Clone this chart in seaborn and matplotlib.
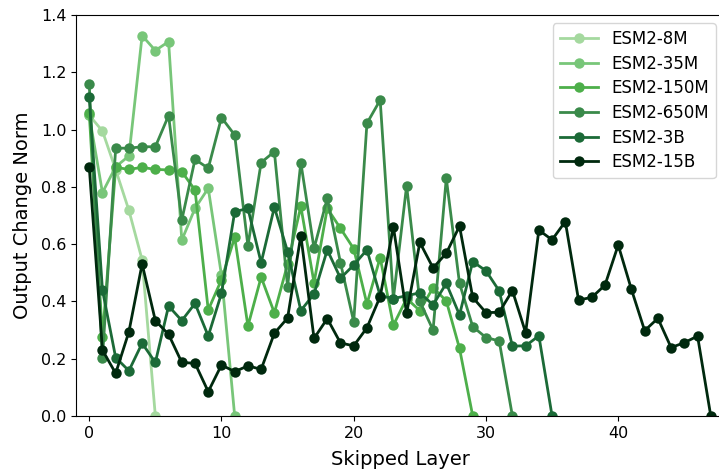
import matplotlib
matplotlib.use("Agg")
import matplotlib.pyplot as plt
import seaborn as sns
import pandas as pd

models = ["ESM2-8M", "ESM2-35M", "ESM2-150M", "ESM2-650M", "ESM2-3B", "ESM2-15B"]
colors = ["#a5d99f", "#78c679", "#4daf4a", "#3a8a4a", "#1b6a37", "#00290e"]

esm8m = [1.05, 0.995, 0.86, 0.718, 0.545, 0.0]
esm35m = [1.05, 0.780, 0.87, 0.908, 1.328, 1.276, 1.307, 0.614, 0.725, 0.795, 0.492, 0.0]
esm150m = [1.059, 0.275, 0.868, 0.861, 0.868, 0.861, 0.859, 0.853, 0.789, 0.370,
           0.476, 0.624, 0.314, 0.485, 0.360, 0.530, 0.732, 0.465, 0.725, 0.655,
           0.584, 0.391, 0.553, 0.317, 0.41, 0.368, 0.448, 0.402, 0.236, 0.0]
esm650m = [1.159, 0.201, 0.935, 0.935, 0.940, 0.940, 1.049, 0.684, 0.896, 0.865,
           1.042, 0.981, 0.594, 0.885, 0.923, 0.452, 0.885, 0.585, 0.760, 0.535,
           0.329, 1.022, 1.103, 0.41, 0.804, 0.40, 0.300, 0.830, 0.463, 0.312,
           0.274, 0.262, 0.0]
esm3b = [1.113, 0.44, 0.204, 0.158, 0.254, 0.187, 0.384, 0.333, 0.393, 0.279,
         0.428, 0.713, 0.725, 0.535, 0.729, 0.574, 0.368, 0.426, 0.580, 0.481,
         0.527, 0.580, 0.42, 0.41, 0.42, 0.43, 0.388, 0.463, 0.353, 0.539,
         0.507, 0.437, 0.244, 0.245, 0.280, 0.0]
esm15b = [0.871, 0.230, 0.149, 0.294, 0.531, 0.333, 0.285, 0.187, 0.184, 0.085,
          0.178, 0.155, 0.175, 0.163, 0.289, 0.342, 0.630, 0.271, 0.340, 0.255,
          0.245, 0.308, 0.417, 0.660, 0.358, 0.606, 0.517, 0.568, 0.663, 0.414,
          0.361, 0.362, 0.438, 0.291, 0.649, 0.615, 0.679, 0.405, 0.414, 0.457,
          0.597, 0.442, 0.298, 0.341, 0.239, 0.256, 0.279, 0.0]

series = [esm8m, esm35m, esm150m, esm650m, esm3b, esm15b]

fig = plt.figure(figsize=(7.19, 4.69), dpi=100)
ax = fig.add_axes([76 / 719, 53 / 469, (724 - 76) / 719, (416 - 15) / 469])

for name, vals, col in zip(models, series, colors):
    df = pd.DataFrame({"layer": list(range(len(vals))), "norm": vals})
    sns.lineplot(data=df, x="layer", y="norm", ax=ax, color=col, label=name,
                 marker="o", markersize=7.5, linewidth=2, markeredgewidth=0,
                 legend=False)

ax.set_xlim(-1, 48)
ax.set_ylim(0, 1.4)
ax.set_xticks([0, 10, 20, 30, 40])
ax.set_yticks([0.0, 0.2, 0.4, 0.6, 0.8, 1.0, 1.2, 1.4])
ax.tick_params(labelsize=11.5)
ax.set_xlabel("Skipped Layer", fontsize=14, labelpad=7)
ax.set_ylabel("Output Change Norm", fontsize=14, labelpad=6)
ax.legend(loc="upper right", fontsize=12, handlelength=2.3, labelspacing=0.4)

fig.savefig("out.png", dpi=100)
